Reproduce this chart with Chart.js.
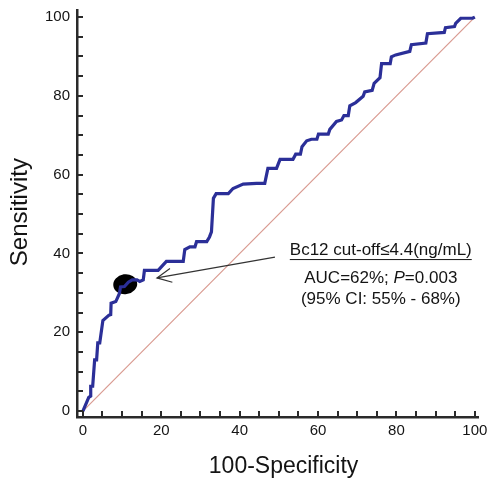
<!DOCTYPE html>
<html>
<head>
<meta charset="utf-8">
<script src="https://cdn.jsdelivr.net/npm/chart.js@4.4.1/dist/chart.umd.min.js"></script>
<style>
  html, body { margin: 0; padding: 0; background: #fff; }
  #wrap { width: 488px; height: 481px; }
</style>
</head>
<body>
<div id="wrap"><canvas id="rocChart" width="488" height="481"></canvas></div>
<script>
// ROC curve vertices (100-Specificity, Sensitivity)
const rocX = [0, 1.5, 2.0, 2.0, 2.5, 3.0, 3.5, 3.8, 4.3, 5.1, 6.6, 7.1, 7.2, 8.4, 9.3, 9.6, 10.6, 11.6, 12.6, 13.8,
  14.5, 15.4, 15.7, 19.2, 21.3, 25.6, 26.0, 27.3, 28.6, 29.0, 31.6, 32.3, 32.8, 33.3, 34.0, 37.1, 38.3, 40.9, 44.3, 46.4,
  47.2, 49.4, 50.3, 53.6, 54.3, 55.5, 55.9, 57.1, 58.3, 59.7, 60.1, 62.6, 63.0, 64.7, 66.0, 66.6, 67.7, 68.1, 69.6, 71.5,
  71.9, 73.8, 74.3, 75.8, 76.2, 78.4, 78.7, 79.8, 83.4, 83.8, 87.5, 87.9, 92.2, 92.5, 94.8, 95.1, 96.4, 99.4, 100];
const rocY = [0, 3.5, 3.8, 6.3, 6.3, 13.0, 13.0, 17.3, 17.3, 23.0, 24.3, 24.5, 27.4, 27.8, 29.8, 31.5, 31.6, 32.7, 33.3, 33.3,
  32.9, 33.3, 35.7, 35.7, 38.0, 38.0, 41.0, 41.7, 41.7, 43.0, 43.0, 44.2, 45.5, 54.0, 55.2, 55.2, 56.5, 57.6, 57.8, 57.8,
  61.6, 61.6, 63.9, 63.9, 65.2, 65.2, 67.1, 68.6, 69.0, 69.0, 70.3, 70.3, 71.5, 73.5, 73.9, 75.0, 75.0, 77.5, 78.3, 79.9,
  81.0, 81.4, 83.2, 84.6, 88.2, 88.2, 89.9, 90.4, 91.3, 93.0, 93.4, 95.8, 96.1, 97.3, 97.6, 98.4, 99.7, 99.7, 100];
const refX = [0, 100];
const refY = [0, 100];
const tickValues = [0, 20, 40, 60, 80, 100];
const cutoffPoint = [10.8, 32.2];
const arrowTail = [49.0, 39.1];
const arrowTip = [18.9, 33.8];

const FONT = '"Liberation Sans", Arial, Helvetica, sans-serif';
const TEXT = '#141414';

const toPoints = (xs, ys) => xs.map((v, i) => ({ x: v, y: ys[i] }));

const rocDecor = {
  id: 'rocDecor',
  beforeDatasetsDraw(chart) {
    const { ctx, scales: { x, y } } = chart;
    ctx.save();
    ctx.fillStyle = '#000';
    ctx.beginPath();
    ctx.ellipse(x.getPixelForValue(cutoffPoint[0]), y.getPixelForValue(cutoffPoint[1]), 12, 10, -0.15, 0, Math.PI * 2);
    ctx.fill();
    ctx.restore();
  },
  afterDraw(chart) {
    const { ctx, chartArea: a, scales: { x, y } } = chart;
    ctx.save();

    // inward tick marks every 5 units
    ctx.strokeStyle = '#2a2a2a';
    ctx.lineWidth = 2;
    for (let v = 0; v <= 100; v += 5) {
      const px = Math.round(x.getPixelForValue(v));
      ctx.beginPath(); ctx.moveTo(px, a.bottom); ctx.lineTo(px, a.bottom - 6); ctx.stroke();
      const py = Math.round(y.getPixelForValue(v));
      ctx.beginPath(); ctx.moveTo(a.left, py); ctx.lineTo(a.left + 6, py); ctx.stroke();
    }

    // axis titles
    ctx.fillStyle = TEXT;
    ctx.font = '23px ' + FONT;
    ctx.textAlign = 'center';
    ctx.textBaseline = 'middle';
    ctx.fillText('100-Specificity', x.getPixelForValue(51.2), 467);
    ctx.save();
    ctx.translate(20, y.getPixelForValue(50.5));
    ctx.rotate(-Math.PI / 2);
    ctx.font = '24px ' + FONT;
    ctx.fillText('Sensitivity', 0, 0);
    ctx.restore();

    // arrow to cut-off point
    const tx = x.getPixelForValue(arrowTip[0]), ty = y.getPixelForValue(arrowTip[1]);
    const sx = x.getPixelForValue(arrowTail[0]), sy = y.getPixelForValue(arrowTail[1]);
    ctx.strokeStyle = '#333';
    ctx.lineWidth = 1.2;
    ctx.beginPath(); ctx.moveTo(sx, sy); ctx.lineTo(tx, ty); ctx.stroke();
    const ang = Math.atan2(sy - ty, sx - tx);
    ctx.beginPath();
    ctx.moveTo(tx + 16 * Math.cos(ang - 0.45), ty + 16 * Math.sin(ang - 0.45));
    ctx.lineTo(tx, ty);
    ctx.lineTo(tx + 16 * Math.cos(ang + 0.45), ty + 16 * Math.sin(ang + 0.45));
    ctx.stroke();

    // annotation text
    const cx = x.getPixelForValue(76);
    ctx.font = '17px ' + FONT;
    ctx.textBaseline = 'alphabetic';
    ctx.textAlign = 'left';
    const head = 'Bc12 cut-off\u22644.4(ng/mL)';
    const hw = ctx.measureText(head).width;
    const hb = y.getPixelForValue(39.6);
    ctx.fillText(head, cx - hw / 2, hb);
    ctx.strokeStyle = TEXT;
    ctx.lineWidth = 1;
    ctx.beginPath(); ctx.moveTo(cx - hw / 2, hb + 4.5); ctx.lineTo(cx + hw / 2, hb + 4.5); ctx.stroke();

    const parts = [['AUC=62%; ', false], ['P', true], ['=0.003', false]];
    let total = 0;
    parts.forEach(([t, it]) => { ctx.font = (it ? 'italic ' : '') + '17px ' + FONT; total += ctx.measureText(t).width; });
    let px = cx - total / 2;
    const ab = y.getPixelForValue(32.5);
    parts.forEach(([t, it]) => {
      ctx.font = (it ? 'italic ' : '') + '17px ' + FONT;
      ctx.fillText(t, px, ab);
      px += ctx.measureText(t).width;
    });

    ctx.font = '17px ' + FONT;
    ctx.textAlign = 'center';
    ctx.fillText('(95% CI: 55% - 68%)', cx, y.getPixelForValue(27.2));
    ctx.restore();
  }
};

const noPad = s => { s.paddingTop = 0; s.paddingBottom = 0; s.paddingLeft = 0; s.paddingRight = 0; };

new Chart(document.getElementById('rocChart'), {
  type: 'scatter',
  data: {
    datasets: [
      {
        label: 'Reference',
        data: toPoints(refX, refY),
        showLine: true,
        borderColor: '#d99a90',
        borderWidth: 1.2,
        pointRadius: 0,
        order: 2
      },
      {
        label: 'ROC',
        data: toPoints(rocX, rocY),
        showLine: true,
        borderColor: '#2b2f98',
        borderWidth: 3.2,
        borderJoinStyle: 'miter',
        pointRadius: 0,
        tension: 0,
        order: 1
      }
    ]
  },
  options: {
    responsive: false,
    animation: false,
    layout: { padding: { top: 10, right: 10, left: 0, bottom: 0 } },
    plugins: { legend: { display: false }, tooltip: { enabled: false } },
    scales: {
      x: {
        type: 'linear', min: -1.5, max: 100.8,
        afterBuildTicks: s => { s.ticks = tickValues.map(v => ({ value: v })); },
        afterFit: s => { s.height = 64; noPad(s); },
        grid: { display: false, drawTicks: false },
        border: { display: true, color: '#2a2a2a', width: 2.5 },
        ticks: { color: TEXT, font: { size: 15, family: FONT }, padding: 5, maxRotation: 0, autoSkip: false }
      },
      y: {
        type: 'linear', min: -1.5, max: 101.8,
        afterBuildTicks: s => { s.ticks = tickValues.map(v => ({ value: v })); },
        afterFit: s => { s.width = 77; noPad(s); },
        grid: { display: false, drawTicks: false },
        border: { display: true, color: '#2a2a2a', width: 2.5 },
        ticks: { color: TEXT, font: { size: 15, family: FONT }, padding: 7, autoSkip: false }
      }
    }
  },
  plugins: [rocDecor]
});
</script>
</body>
</html>
